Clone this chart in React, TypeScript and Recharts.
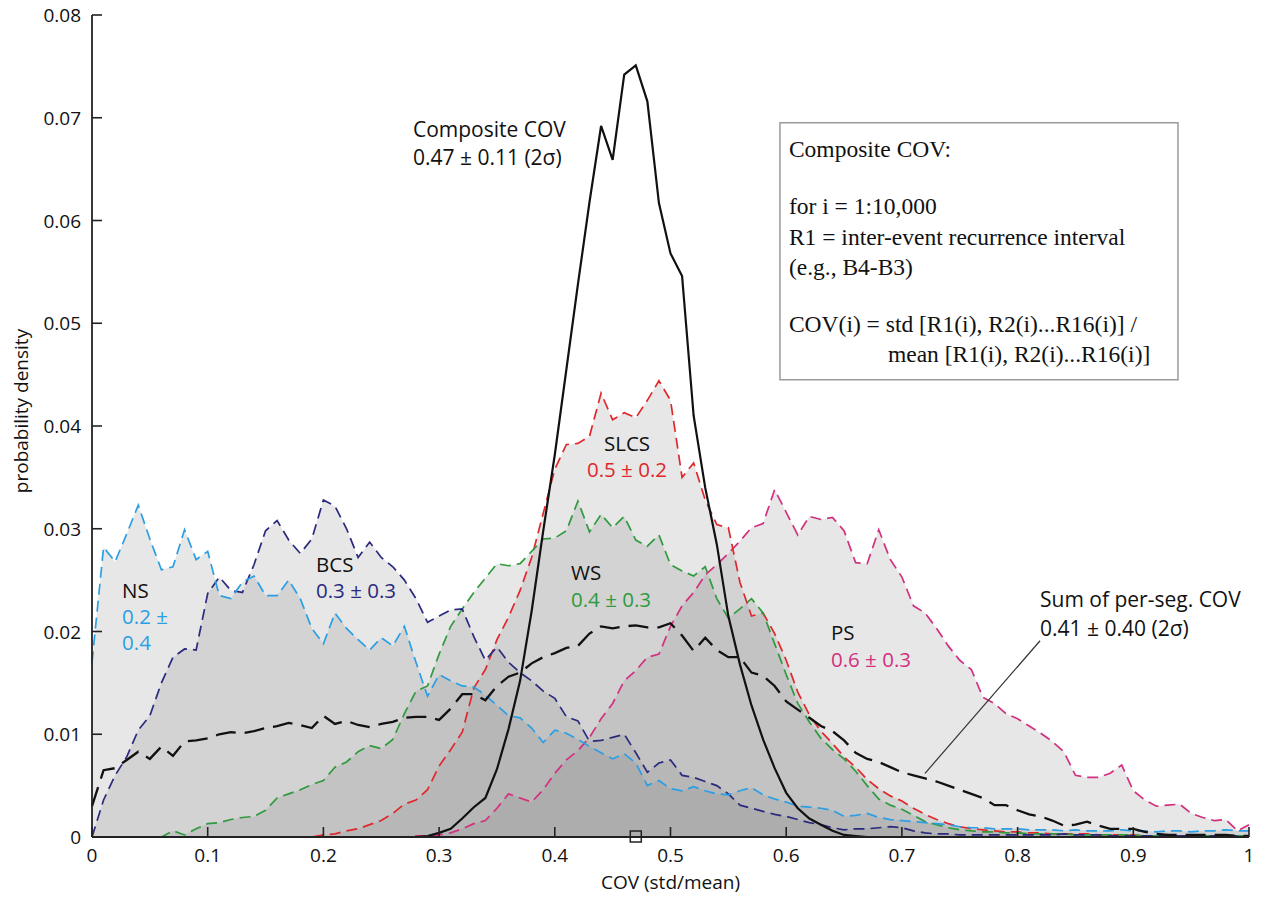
import React from 'react';
import {
  ComposedChart,
  Area,
  Line,
  XAxis,
  YAxis,
  ReferenceDot,
  ReferenceLine,
  ReferenceArea,
  Label,
} from 'recharts';

// COV bins (0 … 1, bin width 0.01)
const covBins: number[] = Array.from({ length: 101 }, (_, i) => Math.round(i) / 100);

const xTicks = [0, 0.1, 0.2, 0.3, 0.4, 0.5, 0.6, 0.7, 0.8, 0.9, 1];
const yTicks = [0, 0.01, 0.02, 0.03, 0.04, 0.05, 0.06, 0.07, 0.08];

// NS (light blue)
const nsDensity = [
  0.017, 0.0282, 0.0268, 0.0295, 0.0323, 0.029, 0.026, 0.0263, 0.0299, 0.027,
  0.0278, 0.0235, 0.0232, 0.0248, 0.0254, 0.0235, 0.0235, 0.025, 0.0232, 0.0203,
  0.0188, 0.0218, 0.0203, 0.0192, 0.0182, 0.0194, 0.0186, 0.0205, 0.017, 0.0137,
  0.0158, 0.0152, 0.0147, 0.0146, 0.0138, 0.0128, 0.0118, 0.0116, 0.0106, 0.0092,
  0.0104, 0.0101, 0.0095, 0.0088, 0.0082, 0.0076, 0.0081, 0.0072, 0.005, 0.0055,
  0.0047, 0.0045, 0.0049, 0.0045, 0.0042, 0.0041, 0.0045, 0.0048, 0.0041, 0.0037,
  0.0034, 0.003, 0.0029, 0.0028, 0.0026, 0.002, 0.0021, 0.0023, 0.0019, 0.0017,
  0.0016, 0.0015, 0.0014, 0.0013, 0.0012, 0.001, 0.0009, 0.0009, 0.0008, 0.0008,
  0.0008, 0.0007, 0.0007, 0.0007, 0.0006, 0.0007, 0.0006, 0.0006, 0.0006, 0.0007,
  0.0006, 0.0006, 0.0005, 0.0006, 0.0006, 0.0005, 0.0006, 0.0006, 0.0007, 0.0006,
  0.0006,
];

// BCS (navy)
const bcsDensity = [
  0, 0.0036, 0.006, 0.0078, 0.0104, 0.0118, 0.015, 0.0175, 0.0183, 0.0182,
  0.0237, 0.0253, 0.024, 0.0238, 0.0265, 0.0298, 0.0308, 0.0289, 0.0276, 0.029,
  0.0328, 0.0322, 0.03, 0.0272, 0.0287, 0.0272, 0.0263, 0.025, 0.0232, 0.0209,
  0.0215, 0.0221, 0.0222, 0.0195, 0.0172, 0.0185, 0.017, 0.016, 0.0152, 0.0142,
  0.0135, 0.0117, 0.0113, 0.0093, 0.0094, 0.0097, 0.01, 0.0082, 0.0063, 0.0072,
  0.0075, 0.006, 0.0058, 0.0054, 0.005, 0.0042, 0.0031, 0.0028, 0.0025, 0.0022,
  0.002, 0.0017, 0.0014, 0.0012, 0.0009, 0.0007, 0.0008, 0.0008, 0.0009, 0.001,
  0.0009, 0.0006, 0.0004, 0.0003, 0.0003, 0.0002, 0.0002, 0.0002, 0.0002, 0.0002,
  0.0002, 0.0002, 0.0002, 0.0002, 0.0003, 0.0002, 0.0002, 0.0002, 0.0001, 0.0001,
  0.0001, 0.0001, 0.0001, 0.0001, 0.0001, 0.0001, 0.0001, 0.0001, 0.0001, 0.0001,
  0.0001,
];

// WS (green)
const wsDensity = [
  0, 0, 0, 0, 0, 0, 0, 0.0006, 0.0002, 0.0008,
  0.0013, 0.0014, 0.0017, 0.0019, 0.002, 0.0026, 0.0038, 0.0042, 0.0046, 0.0051,
  0.0055, 0.0068, 0.0073, 0.0083, 0.0089, 0.0086, 0.0095, 0.012, 0.0142, 0.0147,
  0.0178, 0.0205, 0.0222, 0.0238, 0.0252, 0.0266, 0.0264, 0.0266, 0.0278, 0.029,
  0.0291, 0.0298, 0.0327, 0.0297, 0.0314, 0.0301, 0.0312, 0.0289, 0.0283, 0.0294,
  0.0265, 0.0259, 0.0254, 0.0263, 0.0232, 0.0213, 0.0222, 0.0232, 0.0218, 0.0188,
  0.0158, 0.013, 0.0112, 0.0096, 0.0085, 0.0076, 0.0064, 0.005, 0.0037, 0.0031,
  0.0027, 0.0021, 0.0015, 0.0012, 0.0009, 0.0007, 0.0006, 0.0005, 0.0005, 0.0004,
  0.0004, 0.0003, 0.0003, 0.0003, 0.0003, 0.0002, 0.0002, 0.0002, 0.0002, 0.0002,
  0.0002, 0.0001, 0.0001, 0.0001, 0.0001, 0.0001, 0.0001, 0.0001, 0.0001, 0.0001,
  0.0001,
];

// SLCS (red)
const slcsDensity = [
  0, 0, 0, 0, 0, 0, 0, 0, 0, 0,
  0, 0, 0, 0, 0, 0, 0, 0, 0, 0,
  0.0002, 0.0003, 0.0006, 0.0008, 0.0012, 0.0016, 0.0023, 0.0032, 0.0036, 0.0046,
  0.0069, 0.0085, 0.0102, 0.0145, 0.0163, 0.0192, 0.0214, 0.024, 0.0272, 0.0315,
  0.0358, 0.0382, 0.0383, 0.039, 0.0432, 0.0406, 0.0413, 0.0408, 0.0425, 0.0444,
  0.0425, 0.035, 0.0364, 0.0328, 0.0304, 0.0301, 0.0248, 0.0215, 0.0218, 0.0198,
  0.0172, 0.0141, 0.0119, 0.0103, 0.0091, 0.0078, 0.0068, 0.0056, 0.0047, 0.004,
  0.0035, 0.0028, 0.0022, 0.0017, 0.0013, 0.001, 0.0008, 0.0007, 0.0006, 0.0005,
  0.0005, 0.0004, 0.0004, 0.0003, 0.0003, 0.0003, 0.0003, 0.0002, 0.0002, 0.0002,
  0.0002, 0.0001, 0.0001, 0.0001, 0.0001, 0.0001, 0.0001, 0.0001, 0.0001, 0.0001,
  0.0001,
];

// PS (magenta)
const psDensity = [
  0, 0, 0, 0, 0, 0, 0, 0, 0, 0,
  0, 0, 0, 0, 0, 0, 0, 0, 0, 0,
  0, 0, 0, 0, 0, 0, 0, 0, 0.0001, 0.0001,
  0.0002, 0.0004, 0.0008, 0.0013, 0.0016, 0.0028, 0.0042, 0.0038, 0.0034, 0.0046,
  0.0062, 0.0075, 0.0084, 0.0097, 0.0115, 0.013, 0.0152, 0.0162, 0.0175, 0.0178,
  0.0205, 0.0225, 0.0238, 0.0255, 0.0265, 0.0276, 0.0288, 0.0301, 0.0305, 0.0338,
  0.0316, 0.0294, 0.0312, 0.0309, 0.0311, 0.0298, 0.0267, 0.0266, 0.0299, 0.027,
  0.0253, 0.0225, 0.0218, 0.0203, 0.0186, 0.0172, 0.0163, 0.0136, 0.013, 0.012,
  0.0115, 0.0108, 0.0101, 0.0093, 0.0083, 0.006, 0.0058, 0.0058, 0.0062, 0.007,
  0.0045, 0.0036, 0.003, 0.0031, 0.0032, 0.0023, 0.0019, 0.0016, 0.0017, 0.0006,
  0.0012,
];

// Composite COV (solid black)
const compositeDensity = [
  0, 0, 0, 0, 0, 0, 0, 0, 0, 0,
  0, 0, 0, 0, 0, 0, 0, 0, 0, 0,
  0, 0, 0, 0, 0, 0, 0, 0, 0, 0.0001,
  0.0004, 0.0008, 0.0018, 0.0029, 0.0038, 0.0066, 0.0105, 0.0152, 0.022, 0.0298,
  0.0372, 0.0455, 0.0538, 0.0618, 0.0692, 0.0659, 0.0742, 0.0751, 0.0716, 0.0617,
  0.0568, 0.0546, 0.041, 0.034, 0.0285, 0.0215, 0.0168, 0.0128, 0.0095, 0.0067,
  0.0043, 0.0028, 0.0018, 0.0012, 0.0006, 0.0002, 0.0001, 0, 0, 0,
  0, 0, 0, 0, 0, 0, 0, 0, 0, 0,
  0, 0, 0, 0, 0, 0, 0, 0, 0, 0,
  0, 0, 0, 0, 0, 0, 0, 0, 0, 0,
  0,
];

// Sum of per-segment COV (long-dash black)
const sumDensity = [
  0.003, 0.0065, 0.0067, 0.0075, 0.0083, 0.0076, 0.0088, 0.0079, 0.0093, 0.0094,
  0.0096, 0.01, 0.0102, 0.0101, 0.0103, 0.0106, 0.0108, 0.0111, 0.0109, 0.0106,
  0.0118, 0.011, 0.0113, 0.0109, 0.0107, 0.011, 0.0112, 0.0116, 0.0117, 0.0117,
  0.0114, 0.0125, 0.0139, 0.0139, 0.0133, 0.0147, 0.0156, 0.016, 0.0169, 0.0175,
  0.0179, 0.0184, 0.0186, 0.0198, 0.0205, 0.0203, 0.0205, 0.0206, 0.0204, 0.0204,
  0.0208, 0.0196, 0.0181, 0.0194, 0.0182, 0.0175, 0.0175, 0.016, 0.0157, 0.0147,
  0.0132, 0.0124, 0.0116, 0.0108, 0.0103, 0.0094, 0.0082, 0.0076, 0.0073, 0.0068,
  0.0063, 0.006, 0.0057, 0.0054, 0.005, 0.0046, 0.0042, 0.0038, 0.0031, 0.0031,
  0.0026, 0.0022, 0.002, 0.0016, 0.0011, 0.0012, 0.0015, 0.0011, 0.0008, 0.0008,
  0.0008, 0.0005, 0.0003, 0.0002, 0.0002, 0.0002, 0.0002, 0.0002, 0.0002, 0.0001,
  0.0001,
];

const data = covBins.map((x, i) => ({
  x,
  ns: nsDensity[i],
  bcs: bcsDensity[i],
  ws: wsDensity[i],
  slcs: slcsDensity[i],
  ps: psDensity[i],
  composite: compositeDensity[i],
  sum: sumDensity[i],
}));

const SANS = '"Open Sans", "Liberation Sans", Arial, sans-serif';
const SERIF = '"Liberation Serif", "Times New Roman", serif';
const AXIS = '#222';
const TICK_MARGIN = 11;
const TICK_LEN = 10;

const C_NS = '#2a9fe4';
const C_BCS = '#2a2a7e';
const C_WS = '#2f9a3e';
const C_SLCS = '#e0282c';
const C_PS = '#d3307f';

const fmt = (v: number) => (v === 0 ? '0' : v === 1 ? '1' : String(+v.toFixed(2)));

const YTick = (props: any) => {
  const { x, y, payload } = props;
  const ax = x + TICK_MARGIN;
  return (
    <g>
      <line x1={ax} x2={ax + TICK_LEN} y1={y} y2={y} stroke={AXIS} strokeWidth={1.6} />
      <text x={x} y={y} textAnchor="end" dominantBaseline="central" fontFamily={SANS} fontSize={19} fill="#111">
        {fmt(payload.value)}
      </text>
    </g>
  );
};

const XTick = (props: any) => {
  const { x, y, payload } = props;
  const ay = y - TICK_MARGIN;
  return (
    <g>
      <line x1={x} x2={x} y1={ay} y2={ay - TICK_LEN} stroke={AXIS} strokeWidth={1.6} />
      <text x={x} y={y} dy="0.75em" textAnchor="middle" fontFamily={SANS} fontSize={19} fill="#111">
        {fmt(payload.value)}
      </text>
    </g>
  );
};

type NoteLine = { text: string; color: string };
const makeNote = (lines: NoteLine[], anchor: 'start' | 'middle' = 'start', size = 21, gap = 27) =>
  (p: any) => (
    <g>
      {lines.map((l, i) => (
        <text key={i} x={p.cx} y={p.cy + i * gap} textAnchor={anchor} fontFamily={SANS} fontSize={size} fill={l.color}>
          {l.text}
        </text>
      ))}
    </g>
  );

const boxLines: { text: string; dx: number; dy: number }[] = [
  { text: 'Composite COV:', dx: 9, dy: 34 },
  { text: 'for i = 1:10,000', dx: 9, dy: 91 },
  { text: 'R1 = inter-event recurrence interval', dx: 9, dy: 122 },
  { text: '(e.g., B4-B3)', dx: 9, dy: 152 },
  { text: 'COV(i) = std [R1(i), R2(i)...R16(i)] /', dx: 9, dy: 209 },
  { text: 'mean [R1(i), R2(i)...R16(i)]', dx: 108, dy: 239 },
];

const BoxText = (p: any) => (
  <g>
    {boxLines.map((l, i) => (
      <text key={i} x={p.cx + l.dx} y={p.cy + l.dy} fontFamily={SERIF} fontSize={23.5} fill="#111">
        {l.text}
      </text>
    ))}
  </g>
);

const SquareMark = (p: any) => (
  <rect x={p.cx - 5.5} y={p.cy - 6} width={11} height={11} fill="none" stroke={AXIS} strokeWidth={1.5} />
);

const fills: { key: string }[] = [{ key: 'ps' }, { key: 'slcs' }, { key: 'ws' }, { key: 'bcs' }, { key: 'ns' }];

const dashed: { key: string; color: string }[] = [
  { key: 'ps', color: C_PS },
  { key: 'slcs', color: C_SLCS },
  { key: 'ws', color: C_WS },
  { key: 'bcs', color: C_BCS },
  { key: 'ns', color: C_NS },
];

export default function App() {
  return (
    <div style={{ width: 1258, height: 897, marginTop: -8, background: '#fff' }}>
      <ComposedChart
        width={1258}
        height={897}
        data={data}
        margin={{ top: 15, right: 17, bottom: 0, left: 0 }}
      >
        <XAxis
          dataKey="x"
          type="number"
          domain={[0, 1]}
          ticks={xTicks}
          height={60}
          tickSize={0}
          tickMargin={TICK_MARGIN}
          tickLine={false}
          tick={<XTick />}
          axisLine={{ stroke: AXIS, strokeWidth: 1.8 }}
          interval={0}
        >
          <Label
            content={(p: any) => {
              const vb = p.viewBox || {};
              return (
                <text
                  x={vb.x + vb.width / 2}
                  y={vb.y + vb.height - 8}
                  textAnchor="middle"
                  fontFamily={SANS}
                  fontSize={19}
                  fill="#111"
                >
                  COV (std/mean)
                </text>
              );
            }}
          />
        </XAxis>
        <YAxis
          type="number"
          domain={[0, 0.08]}
          ticks={yTicks}
          width={84}
          tickSize={0}
          tickMargin={TICK_MARGIN}
          tickLine={false}
          tick={<YTick />}
          axisLine={{ stroke: AXIS, strokeWidth: 1.8 }}
          interval={0}
          allowDataOverflow
        >
          <Label
            content={(p: any) => {
              const vb = p.viewBox || {};
              const cx = vb.x + 13;
              const cy = vb.y + vb.height / 2 - 15;
              return (
                <text
                  x={cx}
                  y={cy}
                  transform={`rotate(-90 ${cx} ${cy})`}
                  textAnchor="middle"
                  dominantBaseline="central"
                  fontFamily={SANS}
                  fontSize={19}
                  fill="#111"
                >
                  probability density
                </text>
              );
            }}
          />
        </YAxis>

        {fills.map((f) => (
          <Area
            key={'fill-' + f.key}
            dataKey={f.key}
            type="linear"
            stroke="none"
            fill="#888888"
            fillOpacity={0.2}
            isAnimationActive={false}
            dot={false}
            activeDot={false}
          />
        ))}

        {dashed.map((d) => (
          <Line
            key={'line-' + d.key}
            dataKey={d.key}
            type="linear"
            stroke={d.color}
            strokeWidth={1.7}
            strokeDasharray="11 6"
            dot={false}
            activeDot={false}
            isAnimationActive={false}
          />
        ))}

        <Line
          dataKey="sum"
          type="linear"
          stroke="#111"
          strokeWidth={2.3}
          strokeDasharray="20 9"
          dot={false}
          activeDot={false}
          isAnimationActive={false}
        />
        <Line
          dataKey="composite"
          type="linear"
          stroke="#111"
          strokeWidth={2.2}
          dot={false}
          activeDot={false}
          isAnimationActive={false}
        />

        <ReferenceLine
          segment={[
            { x: 0.72, y: 0.0062 },
            { x: 0.8194, y: 0.0191 },
          ]}
          stroke="#333"
          strokeWidth={1.2}
        />

        <ReferenceArea
          x1={0.5946}
          x2={0.9386}
          y1={0.0445}
          y2={0.06952}
          fill="#ffffff"
          fillOpacity={1}
          stroke="#9a9a9a"
          strokeWidth={1.5}
        />
        <ReferenceDot x={0.5946} y={0.06952} r={0} shape={BoxText} />

        <ReferenceDot
          x={0.2774}
          y={0.0681}
          r={0}
          shape={makeNote([
            { text: 'Composite COV', color: '#111' },
            { text: '0.47 ± 0.11 (2σ)', color: '#111' },
          ], 'start', 21, 28)}
        />
        <ReferenceDot
          x={0.026}
          y={0.0233}
          r={0}
          shape={makeNote([
            { text: 'NS', color: '#111' },
            { text: '0.2 ±', color: C_NS },
            { text: '0.4', color: C_NS },
          ], 'start', 20.5, 26)}
        />
        <ReferenceDot
          x={0.1936}
          y={0.0258}
          r={0}
          shape={makeNote([
            { text: 'BCS', color: '#111' },
            { text: '0.3 ± 0.3', color: C_BCS },
          ], 'start', 20.5, 26)}
        />
        <ReferenceDot
          x={0.4624}
          y={0.0376}
          r={0}
          shape={makeNote([
            { text: 'SLCS', color: '#111' },
            { text: '0.5 ± 0.2', color: C_SLCS },
          ], 'middle', 20.5, 26)}
        />
        <ReferenceDot
          x={0.414}
          y={0.0250}
          r={0}
          shape={makeNote([
            { text: 'WS', color: '#111' },
            { text: '0.4 ± 0.3', color: C_WS },
          ], 'start', 20.5, 27)}
        />
        <ReferenceDot
          x={0.6387}
          y={0.0192}
          r={0}
          shape={makeNote([
            { text: 'PS', color: '#111' },
            { text: '0.6 ± 0.3', color: C_PS },
          ], 'start', 20.5, 27)}
        />
        <ReferenceDot
          x={0.8194}
          y={0.0224}
          r={0}
          shape={makeNote([
            { text: 'Sum of per-seg. COV', color: '#111' },
            { text: '0.41 ± 0.40 (2σ)', color: '#111' },
          ], 'start', 21, 29)}
        />

        <ReferenceDot x={0.47} y={0} r={5} shape={SquareMark} ifOverflow="visible" />
      </ComposedChart>
    </div>
  );
}
